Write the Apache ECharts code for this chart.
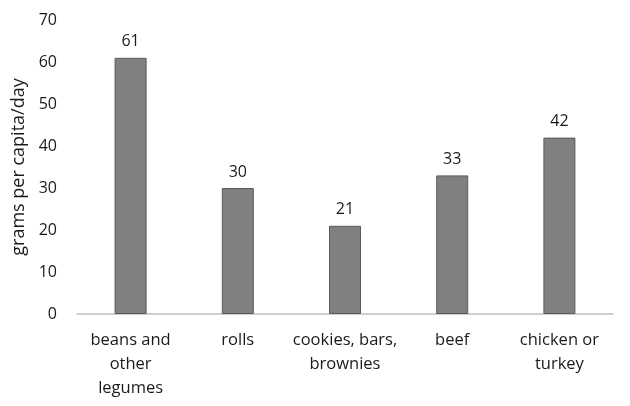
<!DOCTYPE html>
<html><head><meta charset="utf-8">
<script src="https://cdn.jsdelivr.net/npm/echarts@6/dist/echarts.min.js"></script>
<style>html,body{margin:0;padding:0;background:#fff}#c{width:630px;height:406px}</style>
</head><body><div id="c"></div>
<script>
const categories = ["beans and\nother\nlegumes", "rolls", "cookies, bars,\nbrownies", "beef", "chicken or\nturkey"];
const values = [61, 30, 21, 33, 42];
const yTicks = [0, 10, 20, 30, 40, 50, 60, 70];
const yName = "grams per capita/day";

const chart = echarts.init(document.getElementById('c'), null, {renderer: 'canvas'});
const font = "'Open Sans', 'Liberation Sans', sans-serif";
chart.setOption({
  animation: false,
  grid: {left: 77, right: 17, top: 20, bottom: 92},
  xAxis: {
    type: 'category', data: categories,
    axisLine: {lineStyle: {color: '#c0c0c0', width: 1.5}},
    axisTick: {show: false},
    axisLabel: {interval: 0, color: '#1a1a1a', fontSize: 16.5, fontFamily: font, lineHeight: 24, margin: 14}
  },
  yAxis: {
    type: 'value', min: yTicks[0], max: yTicks[yTicks.length-1], interval: 10,
    name: yName, nameLocation: 'middle', nameGap: 46,
    nameTextStyle: {color: '#1a1a1a', fontSize: 18, fontFamily: font},
    axisLine: {show: false}, axisTick: {show: false}, splitLine: {show: false},
    axisLabel: {color: '#1a1a1a', fontSize: 16, fontFamily: font, margin: 20}
  },
  series: [{
    type: 'bar', data: values, barWidth: 32,
    itemStyle: {color: '#808080', borderColor: '#5a5a5a', borderWidth: 1},
    label: {show: true, position: 'top', distance: 8, color: '#1a1a1a', fontSize: 16, fontFamily: font}
  }]
});
</script></body></html>
